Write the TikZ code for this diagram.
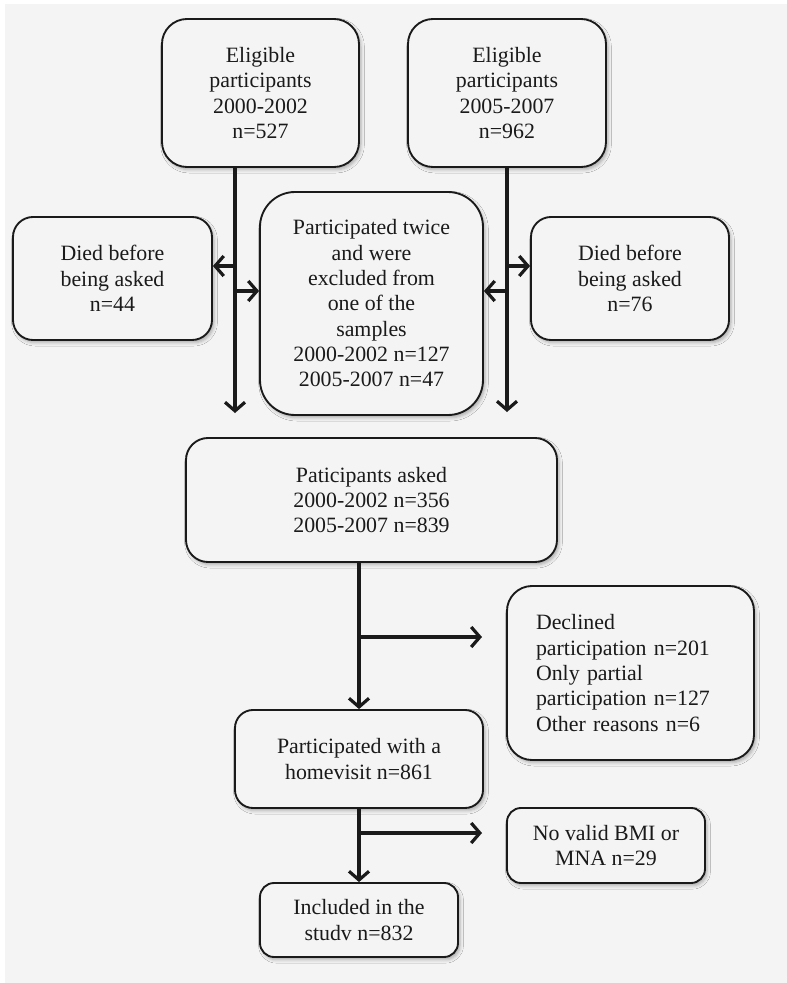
\documentclass[tikz,border=0pt]{standalone}
\usepackage{fontspec}
\setmainfont{Liberation Serif}
\usetikzlibrary{arrows.meta,shadows.blur}
\definecolor{bggray}{HTML}{F4F4F4}
\definecolor{ink}{HTML}{1A1A1A}
\tikzset{
  box/.style args={#1/#2/#3}{draw=ink, line width=1.4pt, fill=bggray,
    rounded corners=#3*0.75pt, minimum width=#1*0.75pt, minimum height=#2*0.75pt,
    inner sep=0pt, align=center, text=ink,
    font=\rmfamily\fontsize{16.4pt}{19pt}\selectfont,
    blur shadow={shadow xshift=1.5pt, shadow yshift=-2pt, shadow opacity=30, shadow blur radius=2.5pt}},
  conn/.style={draw=ink, line width=2.6pt},
  arr/.style={conn, -{Straight Barb[length=6.5pt,width=15pt,line width=2.4pt]}},
}
\begin{document}
\begin{tikzpicture}[x=0.75pt,y=-0.75pt]
\fill[white] (0,0) rectangle (787,983);
\fill[bggray] (5,4) rectangle (787,983);
\useasboundingbox (0,0) rectangle (787,983);

% nodes
\node[box=197/148/25] (E1) at (260.5,93) {Eligible\\participants\\2000-2002\\n=527};
\node[box=198/148/25] (E2) at (507,93) {Eligible\\participants\\2005-2007\\n=962};
\node[box=199/123/20] (D1) at (112.5,278.5) {Died before\\being asked\\n=44};
\node[box=223/223/35] (PT) at (371.5,303.5) {Participated twice\\and were\\excluded from\\one of the\\samples\\2000-2002 n=127\\2005-2007 n=47};
\node[box=198/123/20] (D2) at (630,278.5) {Died before\\being asked\\n=76};
\node[box=371/124/22] (PA) at (371.5,500) {Paticipants asked\\2000-2002 n=356\\2005-2007 n=839};
\node[box=247/174/25, text width=189*0.75pt, align=left] (DC) at (630.5,673) {Declined\\participation n=201\\Only partial\\participation n=127\\Other reasons n=6};
\node[box=248/98/18] (PH) at (359,759) {Participated with a\\homevisit n=861};
\node[box=198/75/14] (NV) at (606,845.5) {No valid BMI or\\MNA n=29};
\node[box=198/74/14] (IN) at (359,920) {Included in the\\studv n=832};

% top flows
\coordinate (Lend) at (235,413);
\coordinate (Rend) at (507,412);
\coordinate (L1) at (235,266);
\coordinate (L2) at (235,291);
\coordinate (R1) at (507,266);
\coordinate (R2) at (507,291);
\draw[arr] (E1.south -| Lend) -- (Lend);
\draw[arr] (E2.south -| Rend) -- (Rend);
\draw[arr] (L1) -- (L1 -| D1.east);
\draw[arr] (L2) -- (L2 -| PT.west);
\draw[arr] (R1) -- (R1 -| D2.west);
\draw[arr] (R2) -- (R2 -| PT.east);

% lower flows
\coordinate (B1) at (359,637);
\coordinate (B1t) at (482,637);
\coordinate (B2) at (359,833);
\coordinate (B2t) at (482,833);
\draw[arr] (PA.south -| PH.north) -- (PH.north);
\draw[arr] (B1) -- (B1t);
\draw[arr] (PH.south) -- (IN.north);
\draw[arr] (B2) -- (B2t);
\end{tikzpicture}
\end{document}
